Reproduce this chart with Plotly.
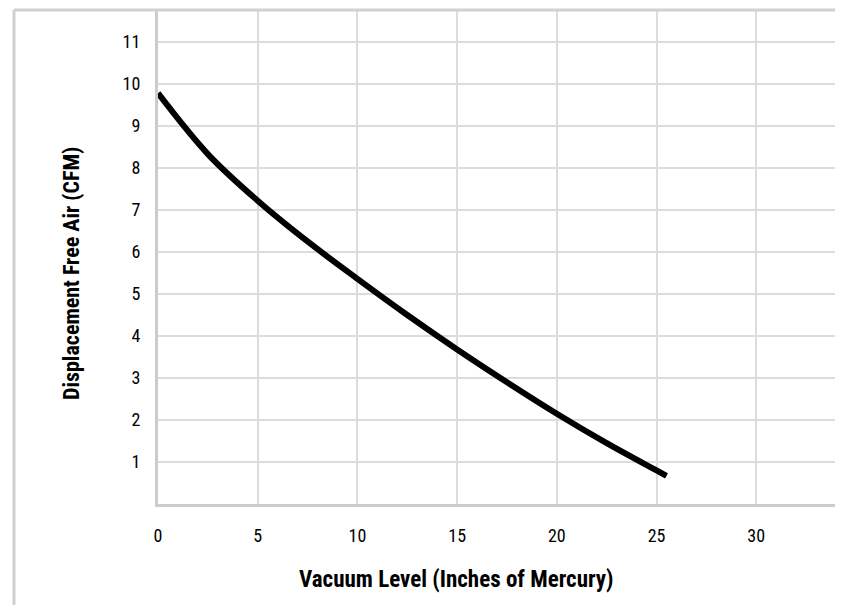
import plotly.graph_objects as go

# Data
vacuum_inhg = [0, 2.5, 5, 7.5, 10, 12.5, 15, 17.5, 20, 22.5, 25, 25.5]
displacement_cfm = [9.78, 8.33, 7.22, 6.25, 5.36, 4.5, 3.68, 2.9, 2.15, 1.45, 0.8, 0.67]

x_ticks = [0, 5, 10, 15, 20, 25, 30]
y_ticks = [1, 2, 3, 4, 5, 6, 7, 8, 9, 10, 11]

FONT = "Roboto Condensed, Liberation Sans Narrow, sans-serif"

fig = go.Figure()
fig.add_trace(go.Scatter(
    x=vacuum_inhg, y=displacement_cfm, mode="lines",
    line=dict(color="black", width=6, shape="spline", smoothing=1.0),
    showlegend=False, hoverinfo="skip",
))

# page is drawn with an 8px body margin, so work in page coordinates and shift
OFF = 8
PAGE_W, PAGE_H = 843, 613
W, H = PAGE_W - 2 * OFF, PAGE_H - 2 * OFF
plot_left, plot_top, plot_bottom, plot_right = 158, 10, 504, PAGE_W - OFF
L = plot_left - OFF
T = plot_top - OFF
B = H - (plot_bottom - OFF)
R = W - (plot_right - OFF)
pw = W - L - R
ph = H - T - B
x_max = 34.35 * (plot_right - plot_left) / (843 - plot_left)


def px(xp):
    return (xp - plot_left) / pw


def py(yp):
    return (plot_bottom - yp) / ph


fig.update_layout(
    width=W, height=H,
    margin=dict(l=L, r=R, t=T, b=B, pad=0),
    paper_bgcolor="white", plot_bgcolor="white",
    font=dict(family=FONT, color="#000000", size=18),
    xaxis=dict(
        range=[0, x_max], tickvals=x_ticks, ticktext=[str(v) for v in x_ticks],
        showgrid=True, gridcolor="#dcdcdc", gridwidth=1.5,
        showline=True, linecolor="#cccccc", linewidth=3,
        zeroline=False, ticks="", ticklabelstandoff=13,
        tickfont=dict(size=18, family=FONT, color="#000000"),
    ),
    yaxis=dict(
        range=[0, 11.76], tickvals=y_ticks, ticktext=[str(v) for v in y_ticks],
        showgrid=True, gridcolor="#dcdcdc", gridwidth=1.5,
        showline=True, linecolor="#cccccc", linewidth=3,
        zeroline=False, ticks="", ticklabelstandoff=11,
        tickfont=dict(size=18, family=FONT, color="#000000"),
    ),
)

# outer frame lines (left and top)
fig.add_shape(type="line", xref="paper", yref="paper",
              x0=px(14), x1=px(14), y0=py(PAGE_H + 5), y1=py(plot_top),
              line=dict(color="#d0d0d0", width=3))
fig.add_shape(type="line", xref="paper", yref="paper",
              x0=px(14), x1=1.0, y0=1.0, y1=1.0,
              line=dict(color="#d0d0d0", width=3))

# axis titles
fig.add_annotation(
    text="<b>Vacuum Level (Inches of Mercury)</b>",
    xref="paper", yref="paper", x=px(456), y=py(579),
    showarrow=False, font=dict(size=23, family=FONT, color="#000000"),
    xanchor="center", yanchor="middle",
)
fig.add_annotation(
    text="<b>Displacement Free Air (CFM)</b>",
    xref="paper", yref="paper", x=px(72), y=py(274),
    showarrow=False, textangle=-90, font=dict(size=22, family=FONT, color="#000000"),
    xanchor="center", yanchor="middle",
)

fig.write_html("out.html")
